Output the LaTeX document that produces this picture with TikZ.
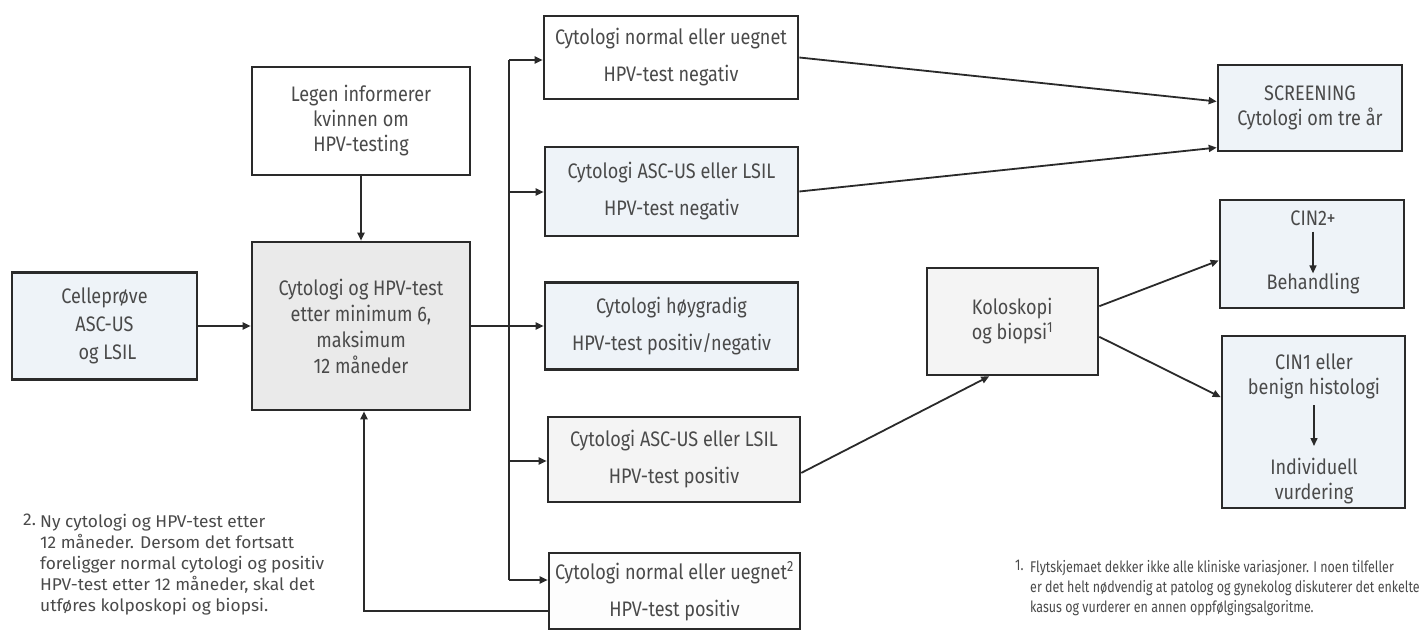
\documentclass[tikz,border=0pt]{standalone}
\usepackage{fontspec}
\setmainfont{Fira Sans}[FakeStretch=0.86]
\newfontfamily\notetwo{Fira Sans}[FakeStretch=1.02]
\newfontfamily\noteone{Fira Sans}[FakeStretch=0.805]
\usetikzlibrary{arrows.meta}
\definecolor{linec}{HTML}{2A2A2A}
\definecolor{txtc}{HTML}{4A4A4A}
\definecolor{bluef}{HTML}{EEF3F8}
\definecolor{grayf}{HTML}{EAEAEA}
\definecolor{lightf}{HTML}{F4F4F4}
\definecolor{whitef}{HTML}{FDFDFD}
\begin{document}
\begin{tikzpicture}[x=1pt,y=-1pt,
  box/.style={draw=linec, line width=2.6pt, fill=#1, inner sep=0pt, text=txtc, align=center},
  t26/.style={font=\fontsize{21}{26}\selectfont},
  t28/.style={font=\fontsize{21}{28}\selectfont},
  t37/.style={font=\fontsize{21}{37}\selectfont},
  t25/.style={font=\fontsize{21}{25}\selectfont},
  lbl/.style={text=txtc, inner sep=0pt, font=\fontsize{21}{25}\selectfont, align=center},
  notea/.style={text=txtc, inner sep=0pt, font=\notetwo\fontsize{17}{21}\selectfont, align=left},
  noteb/.style={text=txtc, inner sep=0pt, font=\noteone\fontsize{15.5}{20}\selectfont, align=left},
  arr/.style={draw=linec, line width=1.8pt, -{Triangle[length=8pt,width=7pt]}},
  ln/.style={draw=linec, line width=1.8pt}]
\useasboundingbox (0,0) rectangle (1419,631);
\fill[white] (0,0) rectangle (1419,631);

% left column
\node[box=bluef, t28, minimum width=185, minimum height=107] (cel) at (104.5,326) {Celleprøve\\ASC-US\\\hspace*{6pt}og LSIL};
\node[box=white, t25, minimum width=218, minimum height=108] (leg) at (361,121) {Legen informerer\\kvinnen om\\HPV-testing};
\node[box=grayf, t26, minimum width=218, minimum height=168] (main) at (361,326) {Cytologi og HPV-test\\etter minimum 6,\\maksimum\\12 måneder};

% middle column
\node[box=white, t37, minimum width=254, minimum height=83] (b1) at (671,57.5) {Cytologi normal eller uegnet\\HPV-test negativ};
\node[box=bluef, t37, minimum width=253, minimum height=89] (b2) at (671.5,191.5) {Cytologi ASC-US eller LSIL\\HPV-test negativ};
\node[box=bluef, t37, minimum width=253, minimum height=87] (b3) at (671.5,326) {Cytologi høygradig\\HPV-test positiv/negativ};
\node[box=lightf, t37, minimum width=252, minimum height=85] (b4) at (674,459.5) {Cytologi ASC-US eller LSIL\\HPV-test positiv};
\node[box=whitef, t37, minimum width=251, minimum height=76] (b5) at (674.5,591) {Cytologi normal eller uegnet\textsuperscript{2}\\HPV-test positiv};

% koloskopi
\node[box=lightf, t25, align=left, minimum width=171, minimum height=107] (kol) at (1012.5,321.5) {Koloskopi\\og biopsi\textsuperscript{1}};

% right column
\node[box=bluef, t25, minimum width=184, minimum height=86] (scr) at (1310,108) {SCREENING\\Cytologi om tre år};
\node[box=bluef, minimum width=184, minimum height=108] (cin2) at (1312,254) {};
\node[lbl] (c2a) at (1313,218) {CIN2+};
\node[lbl] (c2b) at (1313,284) {Behandling};
\node[box=bluef, minimum width=183, minimum height=172] (cin1) at (1313.5,422) {};
\node[lbl] (c1a) at (1314,376) {CIN1 eller\\benign histologi};
\node[lbl] (c1b) at (1314,481) {Individuell\\vurdering};

% connectors
\draw[arr] (cel) -- (main);
\draw[arr] (leg) -- (main);
\coordinate (bt) at (509,60);
\coordinate (b2j) at (509,192);
\coordinate (b4j) at (509,461);
\coordinate (bb) at (509,580);
\draw[ln] (bt) -- (bb);
\draw[arr] (main.east) -- (b3.west);
\draw[arr] (bt) -- (bt -| b1.west);
\draw[arr] (b2j) -- (b2j -| b2.west);
\draw[arr] (b4j) -- (b4j -| b4.west);
\draw[arr] (bb) -- (bb -| b5.west);
\coordinate (fb) at (364,611);
\draw[arr] (fb -| b5.west) -- (fb) -- (fb |- main.south);

\draw[arr] (b1.east) -- (scr.176);
\draw[arr] (b2.east) -- (scr.203);
\draw[arr] (b4.-6) -- (kol.-113);
\draw[arr] (kol.10) -- (cin2.184);
\draw[arr] (kol.-10) -- (cin1.165);

\draw[arr, line width=1.4pt] (c2a.south) ++(0,6) coordinate (c2s) (c2s) -- (c2s |- c2b.north);
\draw[arr, line width=1.4pt] (1314,405) coordinate (c1s) -- (1314,446);

% notes
\node[notea, anchor=north west] (n2num) at (23,514) {2.};
\node[notea, anchor=north west] (n2) at (40,514) {Ny cytologi og HPV-test etter\\12 måneder. Dersom det fortsatt\\foreligger normal cytologi og positiv\\HPV-test etter 12 måneder, skal det\\utføres kolposkopi og biopsi.};
\node[noteb, anchor=north west] (n1num) at (1015,560) {1.};
\node[noteb, anchor=north west] (n1) at (1030,560) {Flytskjemaet dekker ikke alle kliniske variasjoner. I noen tilfeller\\er det helt nødvendig at patolog og gynekolog diskuterer det enkelte\\kasus og vurderer en annen oppfølgingsalgoritme.};
\end{tikzpicture}
\end{document}
